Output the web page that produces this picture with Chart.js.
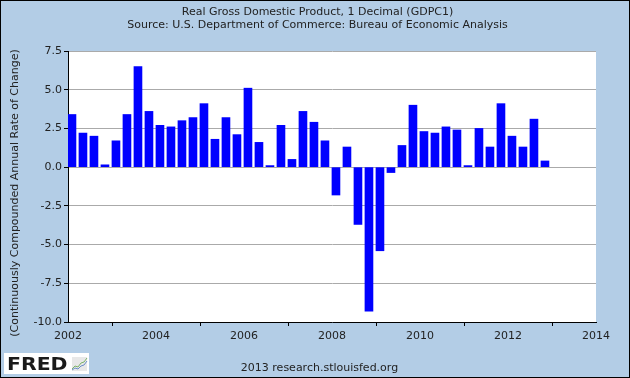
<!DOCTYPE html>
<html>
<head>
<meta charset="utf-8">
<script src="https://cdn.jsdelivr.net/npm/chart.js@4/dist/chart.umd.min.js"></script>
<style>
  html, body { margin: 0; padding: 0; background: #B3CDE6; }
  canvas { display: block; }
</style>
</head>
<body>
<canvas id="c" width="630" height="378"></canvas>
<script>
// ---- Data ----
const quarters = [
  '2002Q1','2002Q2','2002Q3','2002Q4',
  '2003Q1','2003Q2','2003Q3','2003Q4',
  '2004Q1','2004Q2','2004Q3','2004Q4',
  '2005Q1','2005Q2','2005Q3','2005Q4',
  '2006Q1','2006Q2','2006Q3','2006Q4',
  '2007Q1','2007Q2','2007Q3','2007Q4',
  '2008Q1','2008Q2','2008Q3','2008Q4',
  '2009Q1','2009Q2','2009Q3','2009Q4',
  '2010Q1','2010Q2','2010Q3','2010Q4',
  '2011Q1','2011Q2','2011Q3','2011Q4',
  '2012Q1','2012Q2','2012Q3','2012Q4'
];
const growthRate = [
  3.4, 2.2, 2.0, 0.15,
  1.7, 3.4, 6.5, 3.6,
  2.7, 2.6, 3.0, 3.2,
  4.1, 1.8, 3.2, 2.1,
  5.1, 1.6, 0.1, 2.7,
  0.5, 3.6, 2.9, 1.7,
  -1.8, 1.3, -3.7, -9.3,
  -5.4, -0.35, 1.4, 4.0,
  2.3, 2.2, 2.6, 2.4,
  0.1, 2.5, 1.3, 4.1,
  2.0, 1.3, 3.1, 0.4
];
const xTicks = [2002, 2004, 2006, 2008, 2010, 2012, 2014];
const yTicks = [-10, -7.5, -5, -2.5, 0, 2.5, 5, 7.5];
const titleLines = ['Real Gross Domestic Product, 1 Decimal (GDPC1)',
                    'Source: U.S. Department of Commerce: Bureau of Economic Analysis'];
const yAxisTitle = '(Continuously Compounded Annual Rate of Change)';
const footerText = '2013 research.stlouisfed.org';

// ---- Build ----
const BAR_SHIFT = 0.09; // bar drawn just after the quarter's start date
function quarterToX(q) {
  const y = parseInt(q.slice(0, 4), 10);
  const n = parseInt(q.slice(5), 10);
  return y + (n - 1) / 4 + BAR_SHIFT;
}
const points = quarters.map((q, i) => ({ x: quarterToX(q), y: growthRate[i] }));

const FONT = 'DejaVu Sans';
const TEXT = '#222222';
const BG = '#B3CDE6';

const decor = {
  id: 'decor',
  beforeDraw(chart) {
    const { ctx, chartArea: a } = chart;
    ctx.save();
    ctx.fillStyle = BG;
    ctx.fillRect(0, 0, chart.width, chart.height);
    ctx.fillStyle = '#FFFFFF';
    ctx.fillRect(a.left, a.top, a.right - a.left, a.bottom - a.top);
    ctx.restore();
  },
  afterDraw(chart) {
    const { ctx } = chart;
    ctx.save();
    ctx.fillStyle = TEXT;
    ctx.font = '11px "' + FONT + '"';
    ctx.textAlign = 'center';
    ctx.textBaseline = 'alphabetic';
    ctx.fillText(titleLines[0], 317.5, 15);
    ctx.fillText(titleLines[1], 317.5, 28);
    ctx.fillText(footerText, 319.5, 371);

    ctx.save();
    ctx.translate(18, 193);
    ctx.rotate(-Math.PI / 2);
    ctx.textBaseline = 'alphabetic';
    ctx.fillText(yAxisTitle, 0, 0);
    ctx.restore();

    // FRED logo
    ctx.fillStyle = '#FFFFFF';
    ctx.fillRect(4, 353, 85, 21);
    ctx.save();
    ctx.translate(7, 369.5);
    ctx.scale(1.2, 1);
    ctx.fillStyle = '#1a1a1a';
    ctx.font = 'bold 17px "' + FONT + '"';
    ctx.textAlign = 'left';
    ctx.fillText('FRED', 0, 0);
    ctx.restore();
    // small chart icon
    ctx.fillStyle = '#E8E8E8';
    ctx.fillRect(72, 357, 15, 14);
    ctx.lineWidth = 1;
    ctx.strokeStyle = '#7DB36A';
    ctx.beginPath();
    ctx.moveTo(72, 369); ctx.lineTo(75, 366); ctx.lineTo(78, 367); ctx.lineTo(81, 363); ctx.lineTo(84, 362); ctx.lineTo(87, 358);
    ctx.stroke();
    ctx.strokeStyle = '#6C8FC8';
    ctx.beginPath();
    ctx.moveTo(72, 370); ctx.lineTo(75, 368); ctx.lineTo(78, 369); ctx.lineTo(81, 366); ctx.lineTo(84, 365); ctx.lineTo(87, 361);
    ctx.stroke();

    // outer border
    ctx.strokeStyle = '#000000';
    ctx.lineWidth = 1;
    ctx.strokeRect(0.5, 0.5, chart.width - 1, chart.height - 1);
    ctx.restore();
  }
};

new Chart(document.getElementById('c'), {
  type: 'bar',
  data: {
    datasets: [{
      data: points,
      backgroundColor: '#0000FF',
      borderWidth: 0,
      barThickness: 8
    }]
  },
  options: {
    responsive: false,
    animation: false,
    devicePixelRatio: 1,
    layout: { padding: { left: 0, top: 51, right: 34, bottom: 0 } },
    plugins: { legend: { display: false }, tooltip: { enabled: false }, title: { display: false } },
    scales: {
      x: {
        type: 'linear',
        offset: false,
        min: 2002, max: 2014,
        afterBuildTicks: s => { s.ticks = xTicks.map(v => ({ value: v })); },
        afterFit: s => { s.height = 56; },
        ticks: {
          callback: v => String(v),
          color: TEXT,
          font: { family: FONT, size: 11 },
          padding: 4,
          maxRotation: 0,
          autoSkip: false
        },
        grid: { drawOnChartArea: false, drawTicks: true, tickLength: 4, tickColor: '#000000' },
        border: { display: true, color: '#000000', width: 1 }
      },
      y: {
        min: -10, max: 7.5,
        afterBuildTicks: s => { s.ticks = yTicks.map(v => ({ value: v })); },
        afterFit: s => { s.width = 68; },
        ticks: {
          callback: v => v.toFixed(1),
          color: TEXT,
          font: { family: FONT, size: 11 },
          padding: 2,
          autoSkip: false
        },
        grid: {
          color: c => (c.tick && c.tick.value === -10) ? 'rgba(0,0,0,0)' : '#AAAAAA',
          lineWidth: 1,
          tickLength: 4,
          tickColor: '#000000'
        },
        border: { display: true, color: '#000000', width: 1 }
      }
    }
  },
  plugins: [decor]
});
</script>
</body>
</html>
